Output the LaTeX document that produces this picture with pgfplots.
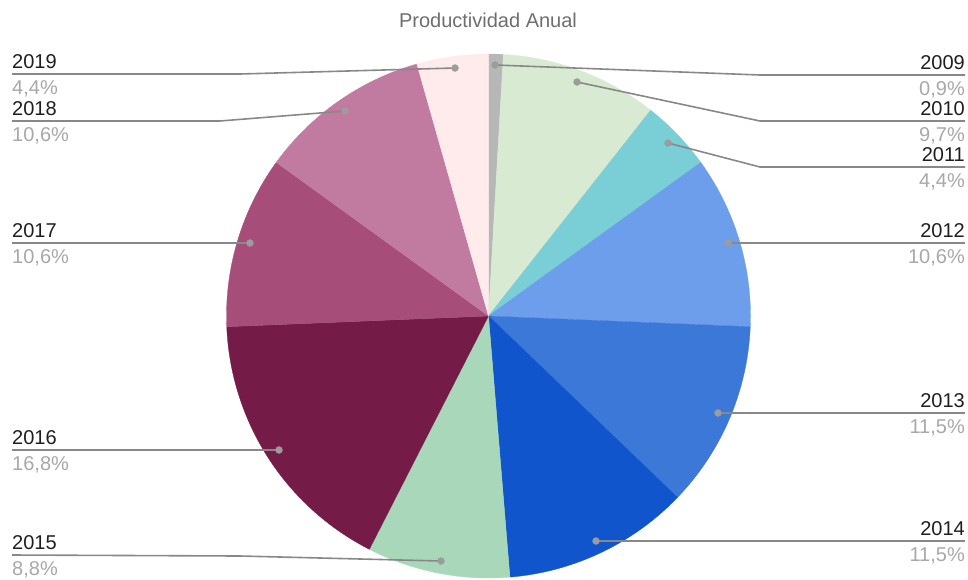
\documentclass[border=0pt]{standalone}
\usepackage{pgfplots}
\pgfplotsset{compat=1.18}
\usepackage{fontspec}
\setmainfont{Liberation Sans}
\definecolor{c09}{HTML}{B7B7B7}
\definecolor{c10}{HTML}{D9EAD3}
\definecolor{c11}{HTML}{7ACFD6}
\definecolor{c12}{HTML}{6D9EEB}
\definecolor{c13}{HTML}{3C78D8}
\definecolor{c14}{HTML}{1155CC}
\definecolor{c15}{HTML}{A8D8B9}
\definecolor{c16}{HTML}{741B47}
\definecolor{c17}{HTML}{A64D79}
\definecolor{c18}{HTML}{C27BA0}
\definecolor{c19}{HTML}{FFEBEB}
\definecolor{titlec}{HTML}{6E6E6E}
\definecolor{yearc}{HTML}{1E1E1E}
\definecolor{pctc}{HTML}{A8A8A8}
\definecolor{leadc}{HTML}{888888}
\definecolor{dotc}{HTML}{9C9C9C}
\newcommand\cx{488.5}
\newcommand\cy{316}
\newcommand\R{262}
\newcommand\total{99.8}
\def\astart{90}
\newcommand\slice[2]{%
  \pgfmathsetmacro\aend{\astart-360*#2/\total}%
  \edef\doslice{\noexpand\addplot[fill=#1, draw=#1, line width=0.3pt, domain=\aend:\astart, samples=90, variable=\noexpand\t, forget plot] ({\cx+\R*cos(\noexpand\t)},{\cy-\R*sin(\noexpand\t)}) -- (axis cs:\cx,\cy) -- cycle;}%
  \doslice
  \global\let\astart\aend}
\newcommand\leader[1]{\addplot[leadc, line width=1.6pt, mark=*, mark size=3.6pt, mark indices={1}, mark options={fill=dotc, draw=dotc, line width=0.1pt}, forget plot] coordinates {#1};}
\tikzset{yearf/.style={font=\fontsize{20}{24}\selectfont, text=yearc, inner sep=0pt},
  pctf/.style={font=\fontsize{20}{24}\selectfont, text=pctc, inner sep=0pt}}
\newcommand\labL[4]{\node[yearf, anchor=base west] at (axis cs:12,#2) {#3};
  \node[pctf, anchor=base west] at (axis cs:12,#1) {#4};}
\newcommand\labR[4]{\node[yearf, anchor=base east] at (axis cs:965,#2) {#3};
  \node[pctf, anchor=base east] at (axis cs:965,#1) {#4};}
\begin{document}
\begin{tikzpicture}
\begin{axis}[x=1pt, y=1pt, xmin=0, xmax=968, ymin=0, ymax=579, y dir=reverse,
  hide axis, clip=false]
\addplot[draw=none, forget plot] coordinates {(0,0) (968,579)};
% slices: year shares in percent
\slice{c09}{0.9}
\slice{c10}{9.7}
\slice{c11}{4.4}
\slice{c12}{10.6}
\slice{c13}{11.5}
\slice{c14}{11.5}
\slice{c15}{8.8}
\slice{c16}{16.8}
\slice{c17}{10.6}
\slice{c18}{10.6}
\slice{c19}{4.4}
% leader lines
\leader{(495,65) (760,75) (965,75)}
\leader{(577,82) (760,121) (965,121)}
\leader{(668,143) (760,167) (965,167)}
\leader{(728,243) (965,243)}
\leader{(718,413) (965,413)}
\leader{(596,541) (965,541)}
\leader{(441,561) (240,556) (12,555)}
\leader{(279,450) (12,450)}
\leader{(250,243) (12,243)}
\leader{(345,111) (220,121) (12,121)}
\leader{(455,68) (240,74) (12,74)}
% labels
\labR{95}{69}{2009}{0,9\%}
\labR{141}{115}{2010}{9,7\%}
\labR{187}{161}{2011}{4,4\%}
\labR{263}{237}{2012}{10,6\%}
\labR{433}{407}{2013}{11,5\%}
\labR{561}{535}{2014}{11,5\%}
\labL{94}{68}{2019}{4,4\%}
\labL{141}{115}{2018}{10,6\%}
\labL{263}{237}{2017}{10,6\%}
\labL{470}{444}{2016}{16,8\%}
\labL{575}{549}{2015}{8,8\%}
\node[font=\fontsize{20}{24}\selectfont, text=titlec, anchor=base, inner sep=0pt] at (axis cs:488,27) {Productividad Anual};
\end{axis}
\end{tikzpicture}
\end{document}
